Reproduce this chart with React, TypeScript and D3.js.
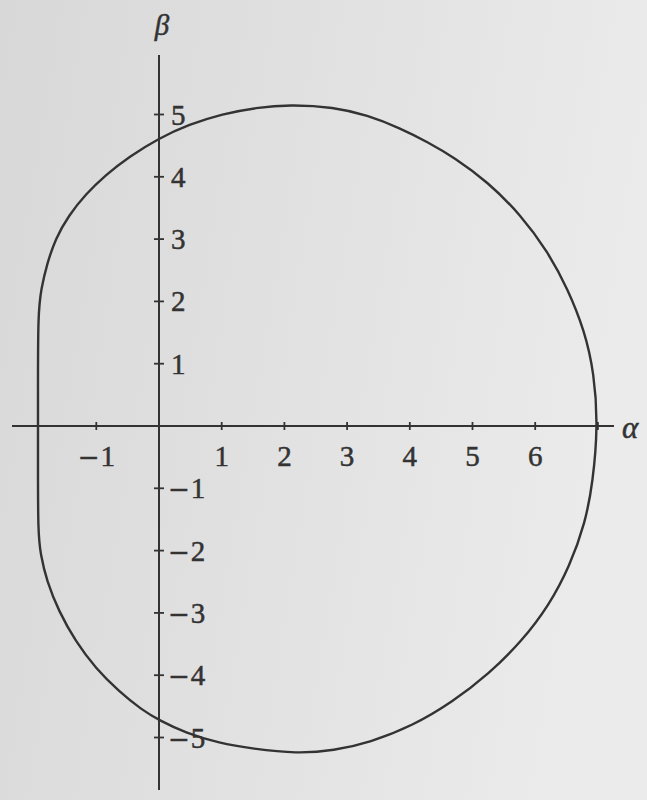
import React from "react";
import * as d3 from "d3";

// Boundary of the region, clockwise from the lower end of the left vertical edge
const alphaPts: number[] = [
  -1.93, -1.93, -1.93, -1.93,
  -1.88, -1.79, -1.65, -1.44, -1.17, -0.85, -0.48, 0.0, 0.48, 1.01, 1.55, 2.08,
  2.79, 3.32, 3.85, 4.28, 4.71, 5.24, 5.77, 6.2, 6.52, 6.79, 6.94, 7.0,
  6.92, 6.8, 6.55, 6.22, 5.79, 5.26, 4.68, 4.05, 3.36, 2.79, 2.2,
  1.49, 0.96, 0.43, 0.0, -0.27, -0.64, -1.01, -1.33, -1.6, -1.79, -1.89,
];
const betaPts: number[] = [
  -1.7, -0.6, 0.6, 1.8,
  2.2, 2.59, 3.01, 3.38, 3.72, 4.03, 4.32, 4.62, 4.84, 5.01, 5.11, 5.16,
  5.12, 4.99, 4.78, 4.56, 4.31, 3.92, 3.39, 2.8, 2.2, 1.52, 0.85, 0.0,
  -0.9, -1.55, -2.25, -2.88, -3.45, -3.98, -4.43, -4.81, -5.08, -5.21, -5.26,
  -5.18, -5.09, -4.93, -4.72, -4.56, -4.26, -3.89, -3.46, -2.97, -2.49, -2.06,
];

const xTicks: number[] = [-1, 1, 2, 3, 4, 5, 6, 7];
const xTickLabels: number[] = [-1, 1, 2, 3, 4, 5, 6];
const yTicks: number[] = [5, 4, 3, 2, 1, -1, -2, -3, -4, -5];
const xAxisLabel = "α";
const yAxisLabel = "β";

const W = 647;
const H = 800;

const MINUS_FONT = "'DejaVu Serif', serif";

function TickText({ v }: { v: number }) {
  if (v < 0) {
    return (
      <>
        <tspan fontFamily={MINUS_FONT} fontSize={26}>{"\u2212"}</tspan>
        <tspan dx={1}>{String(Math.abs(v))}</tspan>
      </>
    );
  }
  return <>{String(v)}</>;
}

export default function App() {
  const x = d3.scaleLinear().domain([-2.5, 7.5]).range([159 - 2.5 * 62.7, 159 + 7.5 * 62.7]);
  const y = d3.scaleLinear().domain([-6, 6]).range([426 + 6 * 62.3, 426 - 6 * 62.3]);

  const pts: [number, number][] = alphaPts.map((a, i) => [a, betaPts[i]]);
  const line = d3
    .line<[number, number]>()
    .x((d) => x(d[0]))
    .y((d) => y(d[1]))
    .curve(d3.curveBasisClosed);

  const x0 = x(0);
  const y0 = y(0);
  const ink = "#333333";
  const font = "'Liberation Serif', 'Times New Roman', serif";
  const textStyle = { stroke: ink, strokeWidth: 0.5 } as React.CSSProperties;

  return (
    <svg
      width={W}
      height={H}
      viewBox={`0 0 ${W} ${H}`}
      style={{ position: "absolute", left: 0, top: 0, display: "block" }}
    >
      <defs>
        <linearGradient id="paper" x1="0" y1="0" x2="1" y2="0.2">
          <stop offset="0" stopColor="#d8d8d8" />
          <stop offset="0.5" stopColor="#e1e1e1" />
          <stop offset="1" stopColor="#ebebeb" />
        </linearGradient>
      </defs>
      <rect x={0} y={0} width={W} height={H} fill="url(#paper)" />

      {/* axes */}
      <line x1={12} y1={y0} x2={614} y2={y0} stroke={ink} strokeWidth={2} />
      <line x1={x0} y1={55} x2={x0} y2={790} stroke={ink} strokeWidth={2} />

      {/* x ticks */}
      {xTicks.map((t) => (
        <line key={"xt" + t} x1={x(t)} x2={x(t)} y1={y0 - 4} y2={y0 + 4} stroke={ink} strokeWidth={1.8} />
      ))}
      {xTickLabels.map((t) => (
        <text
          key={"xl" + t}
          x={x(t)}
          y={y0 + 40}
          textAnchor="middle"
          fontFamily={font}
          fontSize={29}
          fill={ink}
          style={textStyle}
        >
          <TickText v={t} />
        </text>
      ))}

      {/* y ticks */}
      {yTicks.map((t) => (
        <g key={"yt" + t}>
          <line x1={x0 - 5} x2={x0 + 5} y1={y(t)} y2={y(t)} stroke={ink} strokeWidth={1.8} />
          <text
            x={x0 + (t < 0 ? 9 : 12)}
            y={y(t) + 10}
            textAnchor="start"
            fontFamily={font}
            fontSize={29}
            fill={ink}
            style={textStyle}
          >
            <TickText v={t} />
          </text>
        </g>
      ))}

      {/* axis labels */}
      <text x={622} y={438} fontFamily={font} fontStyle="italic" fontSize={31} fill={ink} style={textStyle}>
        {xAxisLabel}
      </text>
      <text
        x={x0 + 3}
        y={35}
        textAnchor="middle"
        fontFamily={font}
        fontStyle="italic"
        fontSize={29}
        fill={ink}
        style={textStyle}
      >
        {yAxisLabel}
      </text>

      {/* boundary curve */}
      <path d={line(pts) || ""} fill="none" stroke={ink} strokeWidth={2.4} />
    </svg>
  );
}
